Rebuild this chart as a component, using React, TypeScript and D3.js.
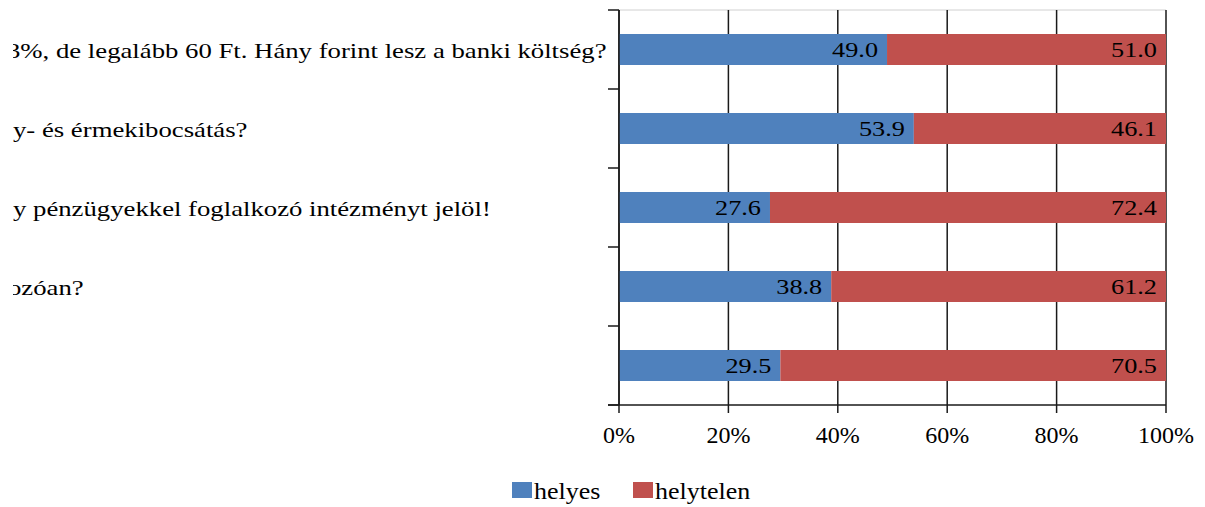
import React from "react";
import * as d3 from "d3";

const categories = [
  "3%, de legalább 60 Ft. Hány forint lesz a banki költség?",
  "y- és érmekibocsátás?",
  "y pénzügyekkel foglalkozó intézményt jelöl!",
  "ozóan?",
  "",
];
// horizontal start offset of each visible label fragment (left part clipped like the reference)
const labelStart = [7, 13, 13, 8, 13];
const helyes = [49.0, 53.9, 27.6, 38.8, 29.5];
const helytelen = [51.0, 46.1, 72.4, 61.2, 70.5];
const xTicks = [0, 20, 40, 60, 80, 100];
const seriesNames = ["helyes", "helytelen"];
const seriesColors = ["#4F81BD", "#C0504D"];

const W = 1205;
const H = 507;
const left = 619;
const right = 1166;
const top = 10;
const bottom = 405;
const FONT = "Liberation Serif, Times New Roman, serif";

function SText({ x, y, sx, size, anchor, children }: any) {
  return (
    <text
      transform={`translate(${x},${y}) scale(${sx},1)`}
      textAnchor={anchor}
      fontSize={size}
      fontFamily={FONT}
      fill="#000"
    >
      {children}
    </text>
  );
}

export default function App() {
  const x = d3.scaleLinear().domain([0, 100]).range([left, right]);
  const idx = categories.map((_, i) => String(i));
  const p = 48 / 79;
  const y = d3.scaleBand().domain(idx).range([top, bottom]).paddingInner(p).paddingOuter(p / 2);
  const step = y.step();
  const stack = d3.stack<any>().keys(seriesNames)(
    categories.map((c, i) => ({ key: String(i), helyes: helyes[i], helytelen: helytelen[i] }))
  );
  const catBounds = d3.range(categories.length + 1).map((i) => top + i * step);

  return (
    <svg width={W} height={H} style={{ position: "absolute", left: 0, top: 0, background: "#fff" }}>
      <defs>
        <clipPath id="labelClip">
          <rect x={13} y={0} width={600} height={H} />
        </clipPath>
      </defs>
      <rect width={W} height={H} fill="#fff" />
      {/* top border */}
      <line x1={left} x2={right} y1={top} y2={top} stroke="#d0d0d0" strokeWidth={1} />
      {/* gridlines */}
      {xTicks.map((t) => (
        <line key={t} x1={x(t)} x2={x(t)} y1={top} y2={bottom + 8} stroke="#1a1a1a" strokeWidth={1.5} />
      ))}
      {/* bars */}
      {stack.map((s, si) =>
        s.map((d: any, i: number) => (
          <rect
            key={si + "-" + i}
            x={x(d[0])}
            y={y(String(i))}
            width={x(d[1]) - x(d[0])}
            height={y.bandwidth()}
            fill={seriesColors[si]}
          />
        ))
      )}
      {/* data labels */}
      {stack.map((s, si) =>
        s.map((d: any, i: number) => (
          <SText
            key={"l" + si + "-" + i}
            x={x(d[1]) - 9}
            y={(y(String(i)) as number) + y.bandwidth() / 2 + 7}
            sx={1.25}
            size={21}
            anchor="end"
          >
            {(d[1] - d[0]).toFixed(1)}
          </SText>
        ))
      )}
      {/* y axis */}
      <line x1={left} x2={left} y1={top} y2={bottom} stroke="#1a1a1a" strokeWidth={1.5} />
      {catBounds.map((b, i) => (
        <line key={"yt" + i} x1={left - 11} x2={left} y1={b} y2={b} stroke="#1a1a1a" strokeWidth={1.5} />
      ))}
      {/* x axis */}
      <line x1={left - 11} x2={right} y1={bottom} y2={bottom} stroke="#1a1a1a" strokeWidth={1.5} />
      {xTicks.map((t) => (
        <SText key={"xt" + t} x={x(t)} y={443} sx={1.0} size={24} anchor="middle">
          {t + "%"}
        </SText>
      ))}
      {/* category labels */}
      <g clipPath="url(#labelClip)">
        {categories.map((c, i) => (
          <SText
            key={"c" + i}
            x={labelStart[i]}
            y={(y(String(i)) as number) + y.bandwidth() / 2 + 8}
            sx={1.215}
            size={22}
            anchor="start"
          >
            {c}
          </SText>
        ))}
      </g>
      {/* legend */}
      {seriesNames.map((n, i) => {
        const lx = i === 0 ? 512 : 633;
        return (
          <g key={n}>
            <rect x={lx} y={482} width={20} height={16} fill={seriesColors[i]} />
            <SText x={lx + 22} y={499} sx={1.13} size={23} anchor="start">
              {n}
            </SText>
          </g>
        );
      })}
    </svg>
  );
}
